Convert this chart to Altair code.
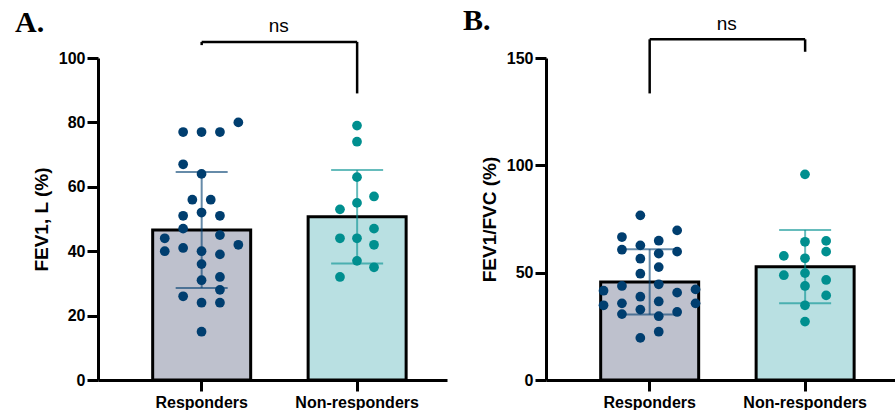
import altair as alt
import pandas as pd

groups = ["Responders", "Non-responders"]

# Panel A: FEV1, L (%)
fev1_resp = [77, 77, 77, 80, 67, 64, 56, 56, 51, 52, 51, 47, 45, 44, 40, 41, 40, 39,
             42, 36, 31, 32, 28, 26, 24, 24, 15]
fev1_resp_col = [-2, 0, 2, 4, -2, 0, -1, 1, -2, 0, 2, -2, 2, -4, -4, -2, 0, 2,
                 4, 0, 0, 2, 2, -2, 0, 2, 0]
fev1_non = [79, 74, 63, 57, 53, 55, 47, 44, 44, 42, 37, 35, 32]
fev1_non_col = [0, 0, 0, 1.85, -1.85, 0, 1.85, -1.85, 0, 1.85, 0, 1.85, -1.85]
fev1_mean = [46.6, 50.7]
fev1_sd = [18.0, 14.5]
fev1_bracket = [105, 104, 89]
fev1_ns = 110
fev1_ticks = [0, 20, 40, 60, 80, 100]

# Panel B: FEV1/FVC (%)
ratio_resp = [76.7, 66.6, 69.7, 60.7, 62.7, 64.9, 59.8, 56.5, 58.9, 52.6, 49.5, 43.8, 44.6, 41.6,
              42.2, 40.7, 38.8, 34.8, 35.7, 35.7, 32.8, 36.6, 30.7, 31.7, 29.7, 22.5, 19.6]
ratio_resp_col = [-1, -3, 3, -3, -1, 1, 3, -1, 1, 1, -1, -3, 1, -5,
                  5, 3, -1, -5, -3, 5, -1, 1, -3, 3, 1, 1, -1]
ratio_non = [95.8, 64.4, 64.8, 59.8, 57.8, 56.7, 48.8, 49.8, 46.6, 43.8, 39.4, 34.8, 27.2]
ratio_non_col = [0, 0, 2.3, 2.3, -2.3, 0, -2.3, 0, 2.3, 0, 2.3, 0, 0]
ratio_mean = [45.7, 52.8]
ratio_sd = [15.2, 17.1]
ratio_bracket = [158.7, 133.5, 152.9]
ratio_ns = 166
ratio_ticks = [0, 50, 100, 150]

fill_colors = ["#BEC1CD", "#B9E0E2"]
dot_colors = ["#003E6F", "#008F8F"]

FONT = "Liberation Sans"


def panel(letter, ytitle, resp, resp_col, non, non_col, mean, sd, bracket, ns_y,
          ticks, ymax, col_half):
    pts = pd.DataFrame({
        "group": [groups[0]] * len(resp) + [groups[1]] * len(non),
        "value": resp + non,
        "col": resp_col + non_col,
    })
    summ = pd.DataFrame({
        "group": groups,
        "mean": mean,
        "lo": [m - s for m, s in zip(mean, sd)],
        "hi": [m + s for m, s in zip(mean, sd)],
    })
    hline = pd.DataFrame({"g1": [groups[0]], "g2": [groups[1]], "y": [bracket[0]]})
    vlegs = pd.DataFrame({"group": groups, "y": [bracket[0]] * 2, "y2": [bracket[1], bracket[2]]})
    nsdf = pd.DataFrame({"group": [groups[0]], "y": [ns_y], "label": ["ns"]})

    xs = alt.Scale(domain=groups, paddingInner=0.355, paddingOuter=0.3, align=0.574)
    ys = alt.Scale(domain=[0, ymax], nice=False, zero=True)
    xaxis = alt.Axis(title=None, labelAngle=0, labelFontSize=16, labelPadding=3)
    yaxis = alt.Axis(title=ytitle, values=ticks, grid=False, titlePadding=7)

    def X(field, **kw):
        return alt.X(field, type="nominal", scale=xs, sort=groups, axis=xaxis, **kw)

    def Y(field):
        return alt.Y(field, type="quantitative", scale=ys, axis=yaxis)

    fill = alt.Fill("group:N", scale=alt.Scale(domain=groups, range=fill_colors), legend=None)
    col = alt.Color("group:N", scale=alt.Scale(domain=groups, range=dot_colors), legend=None)

    bars = alt.Chart(summ).mark_bar(stroke="black", strokeWidth=3, width=98).encode(
        x=X("group"), y=Y("mean"), fill=fill)
    err = alt.Chart(summ).mark_rule(strokeWidth=2, opacity=0.6).encode(
        x=X("group"), y=Y("lo"), y2="hi:Q", color=col)
    cap_lo = alt.Chart(summ).mark_tick(size=52, thickness=2, opacity=0.6, orient="horizontal").encode(
        x=X("group"), y=Y("lo"), color=col)
    cap_hi = alt.Chart(summ).mark_tick(size=52, thickness=2, opacity=0.6, orient="horizontal").encode(
        x=X("group"), y=Y("hi"), color=col)
    dots = alt.Chart(pts).mark_circle(size=95, opacity=1).encode(
        x=X("group"),
        xOffset=alt.XOffset("col:Q", scale=alt.Scale(domain=[-col_half, col_half], range=[0, 100])),
        y=Y("value"), color=col)
    hrule = alt.Chart(hline).mark_rule(color="black", strokeWidth=2.5).encode(
        x=X("g1"), x2="g2", y=Y("y"))
    vrule = alt.Chart(vlegs).mark_rule(color="black", strokeWidth=2.5).encode(
        x=X("group"), y=Y("y"), y2="y2:Q")
    ns = alt.Chart(nsdf).mark_text(font=FONT, fontSize=19, color="black", baseline="middle", dx=27).encode(
        x=X("group", bandPosition=1), y=Y("y"), text="label:N")

    return alt.layer(bars, err, cap_lo, cap_hi, dots, hrule, vrule, ns).properties(
        width=349, height=322,
        title=alt.TitleParams(letter, anchor="start", frame="group", font="Liberation Serif",
                              fontSize=30, fontWeight="bold", color="black", dx=-83, offset=0, dy=21),
    )


pa = panel("A.", "FEV1, L (%)", fev1_resp, fev1_resp_col, fev1_non, fev1_non_col,
           fev1_mean, fev1_sd, fev1_bracket, fev1_ns, fev1_ticks, 100, 50 / 11.5)
pb = panel("B.", "FEV1/FVC (%)", ratio_resp, ratio_resp_col, ratio_non, ratio_non_col,
           ratio_mean, ratio_sd, ratio_bracket, ratio_ns, ratio_ticks, 150, 50 / 9.2)

chart = alt.hconcat(pa, pb, spacing=16).properties(
    padding={"left": 15, "top": 5, "right": 0, "bottom": 0},
    background="white",
).configure_view(stroke=None).configure_axis(
    domainColor="black", domainWidth=3, tickColor="black", tickWidth=3, tickSize=11,
    labelFont=FONT, labelFontWeight="bold", labelFontSize=16, labelColor="black",
    titleFont=FONT, titleFontWeight="bold", titleFontSize=19, titleColor="black",
)

chart.save("out.html", embed_options={"renderer": "svg", "actions": False})
